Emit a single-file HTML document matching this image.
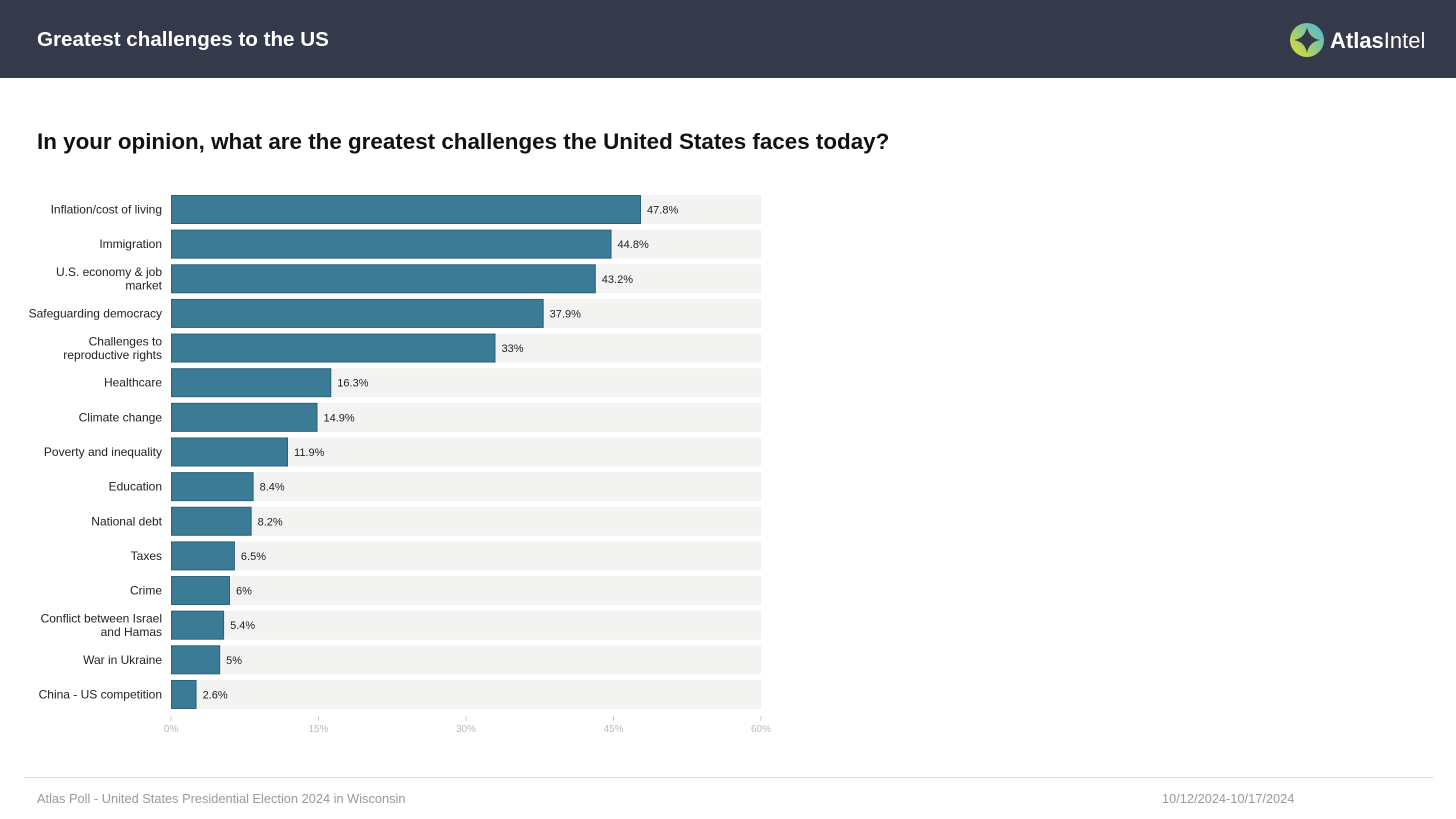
<!DOCTYPE html>
<html><head><meta charset="utf-8"><style>
body{margin:0;width:1456px;height:819px;background:#fff;font-family:"Liberation Sans",sans-serif;overflow:hidden;position:relative}
.hdr{position:absolute;left:0;top:0;width:1456px;height:78px;background:#343a4a}
.hdr h1{position:absolute;left:37px;top:28px;margin:0;font-size:20.6px;color:#fff;font-weight:bold}
.q{position:absolute;left:37px;top:129px;margin:0;font-size:22.4px;font-weight:bold;color:#111}
.foot{position:absolute;top:791px;font-size:12.8px;color:#999}
</style></head><body>
<div class="hdr">
<h1>Greatest challenges to the US</h1>
<svg style="position:absolute;left:1288px;top:21px" width="160" height="40">
<defs><linearGradient id="lg" x1="0" y1="1" x2="1" y2="0"><stop offset="0" stop-color="#e8e020"/><stop offset="1" stop-color="#3fb6e8"/></linearGradient></defs>
<circle cx="19" cy="19" r="17" fill="url(#lg)"/>
<path d="M19 6 Q21 17 32 19 Q21 21 19 32 Q17 21 6 19 Q17 17 19 6Z" fill="#343a4a"/>
<text x="42" y="27" font-size="22" fill="#fff" font-family="Liberation Sans,sans-serif"><tspan font-weight="bold">Atlas</tspan>Intel</text>
</svg>
</div>
<p class="q">In your opinion, what are the greatest challenges the United States faces today?</p>
<svg id="chart" width="1456" height="819" style="position:absolute;left:0;top:0"></svg>
<div style="position:absolute;left:24px;top:777px;width:1409px;height:1px;background:#ddd"></div>
<div class="foot" style="left:37px">Atlas Poll - United States Presidential Election 2024 in Wisconsin</div>
<div class="foot" style="left:1162px">10/12/2024-10/17/2024</div>
<script>
const categories=[["Inflation/cost of living"],["Immigration"],["U.S. economy & job","market"],["Safeguarding democracy"],["Challenges to","reproductive rights"],["Healthcare"],["Climate change"],["Poverty and inequality"],["Education"],["National debt"],["Taxes"],["Crime"],["Conflict between Israel","and Hamas"],["War in Ukraine"],["China - US competition"]];
const values=[47.8,44.8,43.2,37.9,33,16.3,14.9,11.9,8.4,8.2,6.5,6,5.4,5,2.6];
const ticks=[0,15,30,45,60];
const svg=document.getElementById('chart');
const NS='http://www.w3.org/2000/svg';
const x0=171,x1=761,maxV=60,top0=195,step=34.64,bh=29;
const xs=v=>x0+(v/maxV)*(x1-x0);
function mk(t,a){const e=document.createElementNS(NS,t);for(const k in a)e.setAttribute(k,a[k]);svg.appendChild(e);return e;}
values.forEach((v,i)=>{
 const y=top0+i*step;
 const bg=mk('rect',{x:x0,y:y,width:x1-x0,height:bh,fill:'#f3f3f1'});
 
 
 const r=mk('rect',{x:x0+0.5,y:y+0.5,width:xs(v)-x0-1,height:bh-1,fill:'#3c7b96',stroke:'#2c6079','stroke-width':1});
 
 
 const vl=mk('text',{x:xs(v)+6,y:y+bh/2+4,'font-size':11,fill:'#222'});
 vl.textContent=v+'%';
 
 
 const lines=categories[i];
 lines.forEach((s,j)=>{
  const t=mk('text',{x:162,y:y+bh/2+4+(j-(lines.length-1)/2)*13.5,'font-size':12,'text-anchor':'end',fill:'#222'});
  t.textContent=s;
  
  
 });
});
ticks.forEach(t=>{
 const x=xs(t);
 const l=mk('line',{x1:x,x2:x,y1:716,y2:721,stroke:'#ccc'});
 
 
 const tx=mk('text',{x:x,y:732,'font-size':10,'text-anchor':'middle',fill:'#bbb'});
 tx.textContent=t+'%';
 
 
});
</script>
</body></html>
